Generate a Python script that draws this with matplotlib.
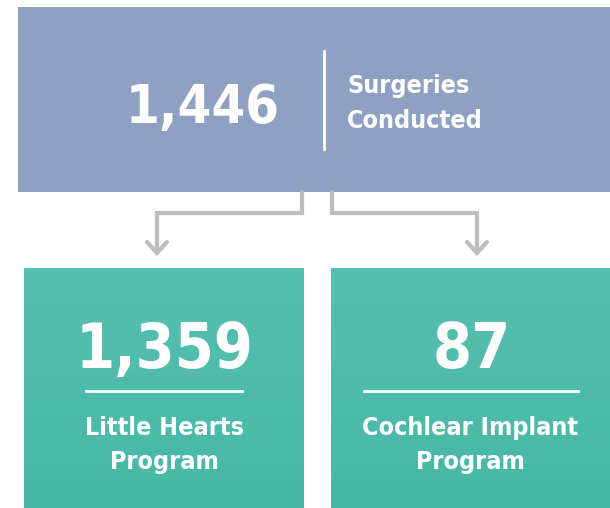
import matplotlib.pyplot as plt
import numpy as np
from matplotlib.colors import LinearSegmentedColormap

# data
total_value = "1,446"
total_label = ["Surgeries", "Conducted"]
program_values = ["1,359", "87"]
program_labels = [["Little Hearts", "Program"], ["Cochlear Implant", "Program"]]

FONT = ["DejaVu Sans"]
BLUE = "#8fa1c2"
GREY = "#bdbdbd"
txt = dict(color="white", fontweight="bold", family=FONT, fontstretch="condensed")

fig = plt.figure(figsize=(6.1, 5.08), dpi=100)
ax = fig.add_axes([0, 0, 1, 1])
ax.set_xlim(0, 610)
ax.set_ylim(508, 0)
ax.axis("off")

# top box
ax.add_patch(plt.Rectangle((18, 7), 592, 185, color=BLUE, lw=0))
ax.plot([324, 324], [51, 149], color="white", lw=2)
ax.text(203, 123, total_value, fontsize=39, ha="center", va="baseline", **txt)
ax.text(347, 93, total_label[0], fontsize=18, ha="left", va="baseline", **txt)
ax.text(347, 128, total_label[1], fontsize=18, ha="left", va="baseline", **txt)

# connectors
def connector(x0, x1):
    ax.plot([x0, x0, x1, x1], [192, 213, 213, 253], color=GREY, lw=3,
            solid_capstyle="round", solid_joinstyle="miter")
    ax.plot([x1 - 10, x1, x1 + 10], [242, 253, 242], color=GREY, lw=3,
            solid_capstyle="round", solid_joinstyle="miter")

connector(302, 157)
connector(332, 477)

# bottom boxes with a soft vertical gradient
cmap = LinearSegmentedColormap.from_list("g", ["#57c0b1", "#47b8a5"])
grad = np.linspace(0, 1, 256).reshape(-1, 1)
boxes = [(24, 304), (331, 610)]
rule_half = [78, 107]
for (x0, x1), val, lab, rh in zip(boxes, program_values, program_labels, rule_half):
    ax.imshow(grad, cmap=cmap, extent=(x0, x1, 508, 268), aspect="auto",
              interpolation="bilinear", zorder=1)
    cx = (x0 + x1) / 2
    ax.text(cx + 1, 368, val, fontsize=45, ha="center", va="baseline", zorder=3, **txt)
    ax.plot([cx - rh, cx + rh], [391, 391], color="white", lw=2, zorder=3)
    ax.text(cx, 435, lab[0], fontsize=18, ha="center", va="baseline", zorder=3, **txt)
    ax.text(cx, 469, lab[1], fontsize=18, ha="center", va="baseline", zorder=3, **txt)

ax.set_xlim(0, 610)
ax.set_ylim(508, 0)
fig.savefig("out.png", dpi=100)
